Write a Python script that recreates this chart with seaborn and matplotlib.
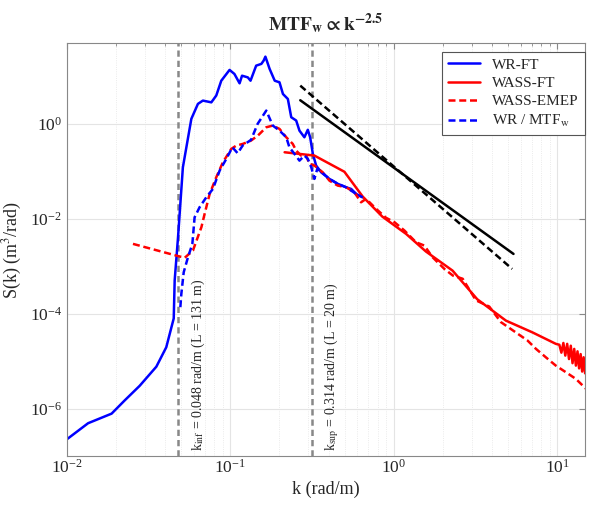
import matplotlib
matplotlib.use("Agg")
import matplotlib.pyplot as plt
import seaborn as sns
import pandas as pd
from matplotlib.ticker import LogLocator, NullFormatter, NullLocator

# WR-FT (blue, solid)
k_wr = [0.0101, 0.0135, 0.0188, 0.0226, 0.0279, 0.0353, 0.0406, 0.0451, 0.0457,
        0.0479, 0.0513, 0.0578, 0.0634, 0.0680, 0.0766, 0.0821, 0.0881, 0.099,
        0.106, 0.114, 0.118, 0.128, 0.133, 0.144, 0.155, 0.160, 0.164, 0.174,
        0.187, 0.200, 0.210, 0.225, 0.236, 0.253, 0.265, 0.284, 0.298, 0.308,
        0.320, 0.335, 0.360, 0.404, 0.454, 0.511, 0.549, 0.589, 0.646]
S_wr = [2.3e-7, 4.9e-7, 7.8e-7, 1.48e-6, 3.0e-6, 7.6e-6, 1.95e-5, 7.9e-5, 5.0e-4,
        4.0e-3, 0.12, 1.26, 2.6, 3.05, 2.8, 3.9, 8.0, 13.5,
        11.1, 7.05, 10.2, 9.4, 8.0, 16.6, 18.1, 21.2, 25.7, 14.2,
        8.0, 7.4, 4.2, 3.3, 1.36, 1.16, 0.71, 0.515, 0.74, 0.515,
        0.23, 0.131, 0.094, 0.0685, 0.054, 0.0456, 0.042, 0.033, 0.028]

# WASS-FT (red, solid)
k_wass = [0.215, 0.327, 0.499, 0.646, 0.851, 1.189, 1.574, 2.29, 3.24, 4.85,
          7.06, 9.8, 10.3, 10.6, 10.9, 11.2, 11.5, 11.8, 12.1, 12.4, 12.7,
          13.0, 13.3, 13.6, 13.9, 14.2, 14.5, 14.8]
S_wass = [0.249, 0.212, 0.0967, 0.029, 0.011, 4.76e-3, 2.02e-3, 8.0e-4, 2.0e-4, 7.1e-5,
          4.0e-5, 2.3e-5, 2.2e-5, 1.5e-5, 2.4e-5, 1.3e-5, 2.3e-5, 1.1e-5, 2.1e-5, 9e-6, 1.8e-5,
          8e-6, 1.6e-5, 7e-6, 1.4e-5, 6e-6, 1.2e-5, 5.5e-6]

# WASS-EMEP (red, dashed)
k_emep = [0.0254, 0.0426, 0.0526, 0.0591, 0.0666, 0.0697, 0.0748, 0.0821, 0.0901,
          0.1014, 0.1088, 0.1195, 0.134, 0.1475, 0.166, 0.182, 0.200, 0.220, 0.241,
          0.253, 0.271, 0.291, 0.305, 0.327, 0.368, 0.404, 0.454, 0.511, 0.574,
          0.631, 0.677, 0.780, 0.898, 1.009, 1.162, 1.368, 1.538, 1.728, 2.04,
          2.3, 2.64, 3.18, 3.84, 4.52, 5.58, 6.58, 7.40, 8.51, 9.8, 11.3, 13.0, 15.0]
S_emep = [2.93e-3, 1.81e-3, 1.49e-3, 2.12e-3, 6.6e-3, 0.0126, 0.033, 0.074, 0.153,
          0.293, 0.344, 0.374, 0.439, 0.559, 0.836, 0.908, 0.773, 0.515, 0.374,
          0.270, 0.212, 0.212, 0.142, 0.131, 0.094, 0.063, 0.0495, 0.0456, 0.0358,
          0.022, 0.026, 0.016, 0.01035, 8.4e-3, 5.6e-3, 3.17e-3, 2.7e-3, 1.53e-3, 8.7e-4,
          6.3e-4, 5.4e-4, 1.9e-4, 1.4e-4, 6.6e-5, 4.0e-5, 2.7e-5, 1.81e-5, 1.2e-5, 8.0e-6,
          5.8e-6, 4.2e-6, 2.6e-6]

# WR / MTF_w (blue, dashed)
k_mtf = [0.0495, 0.0502, 0.0519, 0.0551, 0.0586, 0.0605, 0.0649, 0.0713, 0.0783,
         0.0861, 0.0946, 0.103, 0.111, 0.119, 0.134, 0.147, 0.166, 0.182, 0.200,
         0.220, 0.230, 0.247, 0.265, 0.284, 0.298, 0.313, 0.327, 0.341, 0.404,
         0.454, 0.511, 0.589, 0.646]
S_mtf = [1.36e-4, 2.6e-4, 7.4e-4, 1.53e-3, 2.9e-3, 0.0106, 0.0173, 0.028, 0.042,
         0.1025, 0.181, 0.317, 0.237, 0.344, 0.454, 0.986, 1.88, 0.908, 0.713,
         0.515, 0.317, 0.23, 0.166, 0.212, 0.181, 0.12, 0.0685, 0.113, 0.0685,
         0.054, 0.0456, 0.033, 0.028]

# reference slopes
k_slope = [0.268, 5.4]
S_slope25 = [3.1, 1.8e-3]
k_slope3 = [0.268, 5.3]
S_slope3 = [6.3, 8.7e-4]

k_inf = 0.048
k_sup = 0.314

sns.set_style("white")
plt.rcParams["font.family"] = ["Liberation Serif", "DejaVu Serif"]
plt.rcParams["mathtext.fontset"] = "stix"

fig, ax = plt.subplots(figsize=(5.91, 5.17), dpi=100)
fig.subplots_adjust(left=0.113, right=0.99, top=0.917, bottom=0.118)

dash = (0, (2.8, 1.5))
lw = 1.8

series = [
    (k_wr, S_wr, "#0000ff", "-", "WR-FT"),
    (k_wass, S_wass, "#ff0000", "-", "WASS-FT"),
    (k_emep, S_emep, "#ff0000", dash, "WASS-EMEP"),
    (k_mtf, S_mtf, "#0000ff", dash, r"WR / MTF$_{\rm w}$"),
]
for k, S, c, ls, lab in series:
    df = pd.DataFrame({"k": k, "S": S})
    sns.lineplot(data=df, x="k", y="S", color=c, linestyle=ls, lw=lw,
                 sort=False, estimator=None, label=lab, ax=ax)

sns.lineplot(x=k_slope, y=S_slope25, color="black", lw=lw, sort=False,
             estimator=None, legend=False, ax=ax)
sns.lineplot(x=k_slope3, y=S_slope3, color="black", lw=lw, linestyle=dash,
             sort=False, estimator=None, legend=False, ax=ax)

for kv in (k_inf, k_sup):
    ax.axvline(kv, color="#888888", lw=1.8, linestyle=(0, (2.5, 1.6)), zorder=1)

ax.set_xscale("log")
ax.set_yscale("log")
ax.set_xlim(1e-2, 14.8)
ax.set_ylim(1e-7, 50)

ax.set_yticks([1e-6, 1e-4, 1e-2, 1e0])
ax.yaxis.set_minor_locator(NullLocator())
ax.xaxis.set_major_locator(LogLocator(base=10))
ax.xaxis.set_minor_locator(LogLocator(base=10, subs=range(2, 10)))
ax.xaxis.set_minor_formatter(NullFormatter())

ax.grid(True, which="major", color="#e4e4e4", lw=0.8)
ax.grid(True, which="minor", axis="x", color="#e4e4e4", lw=0.6, linestyle=":")
ax.set_axisbelow(True)

ax.tick_params(which="both", direction="in", top=True, right=True,
               colors="#888888", labelcolor="#262626", labelsize=12.5)
ax.tick_params(which="major", length=4)
ax.tick_params(which="minor", length=2)
ax.tick_params(axis="x", pad=2)
for sp in ax.spines.values():
    sp.set_color("#888888")
    sp.set_linewidth(0.8)

ax.set_xlabel("k (rad/m)", fontsize=13, color="#262626", labelpad=3)
ax.set_ylabel(r"S(k) (m$^3$/rad)", fontsize=13, color="#262626")
ax.set_title(r"$\mathbf{MTF_w \propto k^{-2.5}}$", fontsize=14, pad=9)

ax.text(0.064, 1.3e-7, r"k$_{\rm inf}$ = 0.048 rad/m (L = 131 m)", rotation=90,
        ha="center", va="bottom", fontsize=10, color="#262626")
ax.text(0.42, 1.3e-7, r"k$_{\rm sup}$ = 0.314 rad/m (L = 20 m)", rotation=90,
        ha="center", va="bottom", fontsize=10, color="#262626")

leg = ax.legend(loc="upper right", bbox_to_anchor=(1.0, 0.978), fontsize=11,
                frameon=True, fancybox=False, framealpha=1, edgecolor="#555555",
                handlelength=2.1, borderaxespad=0, labelspacing=0.3)
leg.get_frame().set_linewidth(0.8)

fig.savefig("out.png", dpi=100)
